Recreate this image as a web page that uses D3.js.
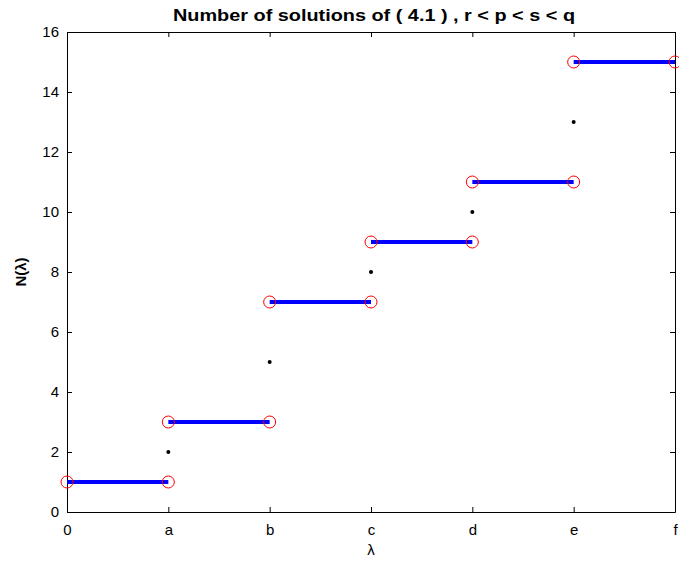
<!DOCTYPE html>
<html>
<head>
<meta charset="utf-8">
<script src="https://cdn.jsdelivr.net/npm/d3@7"></script>
<style>
  body { margin: 0; background: #fff; }
  text { font-family: "Liberation Sans", Arial, sans-serif; }
</style>
</head>
<body>
<svg id="chart" width="679" height="562"></svg>
<script>
// tick labels on the lambda axis
var xTickLabels = ["0", "a", "b", "c", "d", "e", "f"];
var yTicks = [0, 2, 4, 6, 8, 10, 12, 14, 16];

// constant pieces of N(lambda): from x0 to x1 at level n
var stepStart = [0, 1, 2, 3, 4, 5];
var stepEnd   = [1, 2, 3, 4, 5, 6];
var stepLevel = [1, 3, 7, 9, 11, 15];

// isolated values at the jump points
var jumpX = [1, 2, 3, 4, 5];
var jumpN = [2, 5, 8, 10, 13];

var svg = d3.select("#chart");
var margin = {top: 32, right: 4, bottom: 50, left: 67};
var width = +svg.attr("width") - margin.left - margin.right;
var height = +svg.attr("height") - margin.top - margin.bottom;
var g = svg.append("g").attr("transform", "translate(" + margin.left + "," + margin.top + ")");

var x = d3.scaleLinear().domain([0, 6]).range([0, width]);
var y = d3.scaleLinear().domain([0, 16]).range([height, 0]);

// axes, MATLAB style: ticks pointing inward on all four sides
var xAxis = g.append("g")
  .attr("transform", "translate(0," + height + ")")
  .call(d3.axisBottom(x).tickValues(d3.range(7)).tickSizeInner(-5).tickSizeOuter(0)
    .tickFormat(function(d, i) { return xTickLabels[i]; }));
xAxis.selectAll("text").attr("dy", "1.3em");

var xTop = g.append("g")
  .call(d3.axisTop(x).tickValues(d3.range(7)).tickSizeInner(-5).tickSizeOuter(0).tickFormat(""));

var yAxis = g.append("g")
  .call(d3.axisLeft(y).tickValues(yTicks).tickSizeInner(-5).tickSizeOuter(0));
yAxis.selectAll("text").attr("x", -8);

var yRight = g.append("g")
  .attr("transform", "translate(" + width + ",0)")
  .call(d3.axisRight(y).tickValues(yTicks).tickSizeInner(-5).tickSizeOuter(0).tickFormat(""));

g.selectAll(".domain").attr("stroke", "#000").attr("stroke-width", 1);
g.selectAll(".tick line").attr("stroke", "#000");
g.selectAll(".tick text").attr("font-size", 15).attr("fill", "#000")
  .style("font-family", "'Liberation Sans', Arial, sans-serif");

// horizontal steps
var steps = stepStart.map(function(s, i) { return {x0: s, x1: stepEnd[i], n: stepLevel[i]}; });

g.selectAll(".step")
  .data(steps)
  .enter()
  .append("line")
  .attr("class", "step")
  .attr("x1", function(d) { return x(d.x0); })
  .attr("x2", function(d) { return x(d.x1); })
  .attr("y1", function(d) { return y(d.n); })
  .attr("y2", function(d) { return y(d.n); })
  .attr("stroke", "#0000ff")
  .attr("stroke-width", 4);

// end points of each step
var ends = [];
steps.forEach(function(d) {
  ends.push({x: d.x0, n: d.n});
  ends.push({x: d.x1, n: d.n});
});

g.selectAll(".end")
  .data(ends)
  .enter()
  .append("circle")
  .attr("class", "end")
  .attr("cx", function(d) { return x(d.x); })
  .attr("cy", function(d) { return y(d.n); })
  .attr("r", 6)
  .attr("fill", "none")
  .attr("stroke", "#ff0000")
  .attr("stroke-width", 1);

// values at the jumps
g.selectAll(".jump")
  .data(jumpX)
  .enter()
  .append("circle")
  .attr("class", "jump")
  .attr("cx", function(d) { return x(d); })
  .attr("cy", function(d, i) { return y(jumpN[i]); })
  .attr("r", 2)
  .attr("fill", "#000");

// title and labels
svg.append("text")
  .attr("x", 374)
  .attr("y", 21)
  .attr("text-anchor", "middle")
  .attr("font-size", 16)
  .attr("font-weight", "bold")
  .attr("textLength", 402)
  .attr("lengthAdjust", "spacingAndGlyphs")
  .text("Number  of  solutions  of  ( 4.1 ) ,  r < p < s < q");

svg.append("text")
  .attr("x", margin.left + width / 2)
  .attr("y", 555)
  .attr("text-anchor", "middle")
  .attr("font-size", 15)
  .text("λ");

svg.append("text")
  .attr("transform", "translate(26," + (margin.top + height / 2) + ") rotate(-90)")
  .attr("text-anchor", "middle")
  .attr("font-size", 15)
  .attr("font-weight", "bold")
  .text("N(λ)");
</script>
</body>
</html>
